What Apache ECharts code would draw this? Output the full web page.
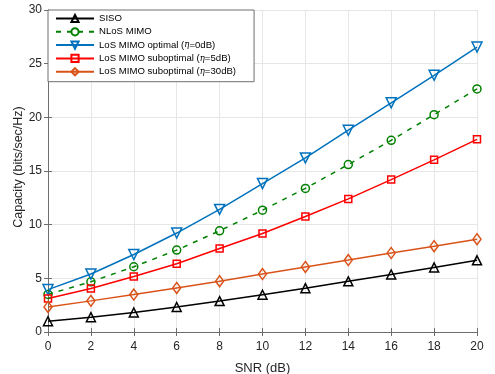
<!DOCTYPE html>
<html><head><meta charset="utf-8">
<script src="https://cdn.jsdelivr.net/npm/echarts@6/dist/echarts.min.js"></script>
<style>html,body{margin:0;padding:0;background:#fff}#c{width:495px;height:374px}</style>
</head><body><div id="c"></div>
<script>
const snr = [0, 2, 4, 6, 8, 10, 12, 14, 16, 18, 20];
const siso = [1.0, 1.38, 1.82, 2.33, 2.88, 3.47, 4.08, 4.72, 5.36, 6.02, 6.68];
const nlos = [3.5, 4.68, 6.08, 7.63, 9.43, 11.35, 13.38, 15.6, 17.86, 20.25, 22.65];
const losOpt = [3.95, 5.4, 7.22, 9.22, 11.42, 13.83, 16.22, 18.8, 21.35, 23.92, 26.55];
const losSub5 = [3.12, 4.06, 5.17, 6.36, 7.78, 9.18, 10.76, 12.4, 14.2, 16.04, 17.95];
const losSub30 = [2.33, 2.9, 3.49, 4.11, 4.73, 5.4, 6.06, 6.7, 7.36, 7.99, 8.65];
const xTicks = {min: 0, max: 20, interval: 2};
const yTicks = {min: 0, max: 30, interval: 5};

const font = 'Liberation Sans, Arial, Helvetica, sans-serif';
const axisCol = '#6e6e6e';
const txtCol = '#262626';
function mk(name, data, color, symbol, size, opts) {
  return Object.assign({
    name, type: 'line', data: snr.map((x, i) => [x, data[i]]),
    symbol, symbolSize: size, showAllSymbol: true,
    lineStyle: {color, width: 1.5},
    itemStyle: {color: 'rgba(255,255,255,0)', borderColor: color, borderWidth: 1.5},
    emphasis: {disabled: true}, animation: false, z: 3
  }, opts || {});
}
const chart = echarts.init(document.getElementById('c'), null, {renderer: 'canvas'});
const base = {
  splitLine: {show: false}, axisLine: {show: true, lineStyle: {color: axisCol, width: 1}},
  axisTick: {show: true, inside: true, length: 4, lineStyle: {color: axisCol}},
  axisLabel: {show: false}
};
chart.setOption({
  animation: false,
  backgroundColor: '#fff',
  grid: {left: 48, right: 18, top: 10, bottom: 42, containLabel: false, outerBoundsMode: 'none'},
  legend: {
    orient: 'vertical', left: 48, top: 10, padding: [2.5, 18, 4, 7],
    backgroundColor: '#fff', borderColor: '#6e6e6e', borderWidth: 1, borderRadius: 0,
    itemWidth: 38, itemHeight: 9, itemGap: 1.3,
    textStyle: {fontFamily: font, fontSize: 9.6, lineHeight: 12, color: '#000',
      rich: {i: {fontFamily: 'DejaVu Serif, serif', fontStyle: 'italic', fontSize: 8.5, lineHeight: 12, color: '#000'}}},
    formatter: function (n) { return n.replace('η', '{i|η}'); },
    selectedMode: false
  },
  xAxis: [Object.assign({}, base, {
    type: 'value', min: xTicks.min, max: xTicks.max, interval: xTicks.interval,
    name: 'SNR (dB)', nameLocation: 'middle', nameGap: 30, nameMoveOverlap: false,
    nameTextStyle: {fontFamily: font, fontSize: 13, color: txtCol},
    splitLine: {show: true, lineStyle: {color: '#e6e6e6', width: 1}},
    axisLabel: {show: true, fontFamily: font, fontSize: 12, color: txtCol, margin: 8.5}
  }), Object.assign({}, base, {type: 'value', position: 'top', min: xTicks.min, max: xTicks.max, interval: xTicks.interval})],
  yAxis: [Object.assign({}, base, {
    type: 'value', min: yTicks.min, max: yTicks.max, interval: yTicks.interval,
    name: 'Capacity (bits/sec/Hz)', nameLocation: 'middle', nameGap: 23, nameMoveOverlap: false,
    nameTextStyle: {fontFamily: font, fontSize: 12.5, color: txtCol, padding: [0, 0, 0, 8]},
    splitLine: {show: true, lineStyle: {color: '#e6e6e6', width: 1}},
    axisLabel: {show: true, fontFamily: font, fontSize: 12, color: txtCol, margin: 6}
  }), Object.assign({}, base, {type: 'value', position: 'right', min: yTicks.min, max: yTicks.max, interval: yTicks.interval})],
  series: [
    mk('SISO', siso, '#000000', 'triangle', 9),
    mk('NLoS MIMO', nlos, '#008000', 'circle', 8, {lineStyle: {color: '#008000', width: 1.5, type: [5, 6]}}),
    mk('LoS MIMO optimal (η=0dB)', losOpt, '#0072BD', 'triangle', 10, {symbolRotate: 180}),
    mk('LoS MIMO suboptimal (η=5dB)', losSub5, '#FF0000', 'rect', 7),
    mk('LoS MIMO suboptimal (η=30dB)', losSub30, '#D95319', 'diamond', [8, 11])
  ]
});
</script></body></html>
